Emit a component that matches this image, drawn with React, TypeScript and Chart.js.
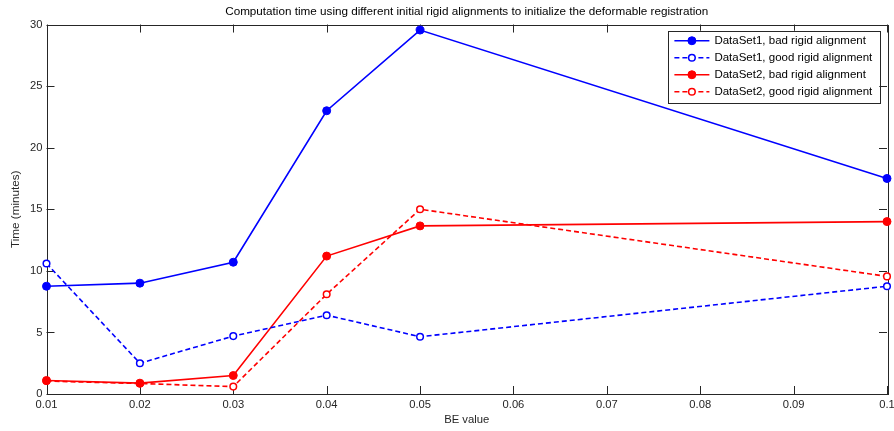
import { useEffect, useRef } from "react";
import { Chart, registerables } from "chart.js";

Chart.register(...registerables);

const beValues = [0.01, 0.02, 0.03, 0.04, 0.05, 0.1];
const ds1Bad = [8.75, 9.0, 10.7, 23.0, 29.55, 17.5];
const ds1Good = [10.6, 2.5, 4.7, 6.4, 4.65, 8.75];
const ds2Bad = [1.1, 0.88, 1.5, 11.2, 13.65, 14.0];
const ds2Good = [1.05, 0.85, 0.6, 8.1, 15.0, 9.55];
const seriesLabels = [
  "DataSet1, bad rigid alignment",
  "DataSet1, good rigid alignment",
  "DataSet2, bad rigid alignment",
  "DataSet2, good rigid alignment",
];
const xTickValues = [0.01, 0.02, 0.03, 0.04, 0.05, 0.06, 0.07, 0.08, 0.09, 0.1];
const xTickLabels = ["0.01", "0.02", "0.03", "0.04", "0.05", "0.06", "0.07", "0.08", "0.09", "0.1"];
const yTickValues = [0, 5, 10, 15, 20, 25, 30];
const yTickLabels = ["0", "5", "10", "15", "20", "25", "30"];
const titleText =
  "Computation time using different initial rigid alignments to initialize the deformable registration";
const xTitle = "BE value";
const yTitle = "Time (minutes)";

const FONT = '"Liberation Sans", Arial, sans-serif';
const AXIS_COLOR = "#262626";

const framePlugin = {
  id: "matlabFrame",
  beforeDatasetsDraw(chart: any) {
    const { ctx, chartArea, scales } = chart;
    const { left, right, top, bottom } = chartArea;
    const tick = 8;
    ctx.save();
    ctx.strokeStyle = AXIS_COLOR;
    ctx.lineWidth = 1;
    ctx.beginPath();
    for (const v of xTickValues) {
      const x = Math.round(scales.x.getPixelForValue(v)) + 0.5;
      ctx.moveTo(x, bottom);
      ctx.lineTo(x, bottom - tick);
      ctx.moveTo(x, top);
      ctx.lineTo(x, top + tick);
    }
    for (const v of yTickValues) {
      const y = Math.round(scales.y.getPixelForValue(v)) + 0.5;
      ctx.moveTo(left, y);
      ctx.lineTo(left + tick, y);
      ctx.moveTo(right, y);
      ctx.lineTo(right - tick, y);
    }
    ctx.stroke();
    ctx.strokeRect(Math.round(left) + 0.5, Math.round(top) + 0.5, Math.round(right - left), Math.round(bottom - top));
    ctx.restore();
  },
};

const legendPlugin = {
  id: "matlabLegend",
  afterDraw(chart: any) {
    const { ctx, chartArea } = chart;
    const items = chart.data.datasets;
    ctx.save();
    ctx.font = `11.5px ${FONT}`;
    const maxW = Math.max(...items.map((d: any) => ctx.measureText(d.label).width));
    const padL = 6.6;
    const lineLen = 35;
    const gap = 5;
    const padR = 7;
    const rowH = 17;
    const w = padL + lineLen + gap + maxW + padR;
    const h = 20.6 + rowH * (items.length - 1);
    const right = chartArea.right - 7.7;
    const top = chartArea.top + 6.2;
    const left = right - w;
    ctx.fillStyle = "#ffffff";
    ctx.fillRect(left, top, w, h);
    ctx.strokeStyle = AXIS_COLOR;
    ctx.lineWidth = 1;
    ctx.strokeRect(Math.round(left) + 0.5, Math.round(top) + 0.5, Math.round(w), Math.round(h));
    items.forEach((d: any, i: number) => {
      const cy = top + 10 + i * rowH;
      const x0 = left + padL;
      ctx.strokeStyle = d.borderColor;
      ctx.lineWidth = d.borderWidth;
      ctx.setLineDash(d.borderDash || []);
      ctx.beginPath();
      ctx.moveTo(x0, cy);
      ctx.lineTo(x0 + lineLen, cy);
      ctx.stroke();
      ctx.setLineDash([]);
      ctx.beginPath();
      ctx.arc(x0 + lineLen / 2, cy, d.pointRadius, 0, Math.PI * 2);
      ctx.fillStyle = d.pointBackgroundColor;
      ctx.fill();
      ctx.lineWidth = d.pointBorderWidth;
      ctx.strokeStyle = d.borderColor;
      ctx.stroke();
      ctx.fillStyle = "#000000";
      ctx.textBaseline = "middle";
      ctx.textAlign = "left";
      ctx.fillText(d.label, x0 + lineLen + gap, cy + 0.5);
    });
    ctx.restore();
  },
};

function makeSeries(label: string, values: number[], color: string, dashed: boolean) {
  return {
    label,
    data: beValues.map((x, i) => ({ x, y: values[i] })),
    borderColor: color,
    backgroundColor: color,
    borderWidth: 1.6,
    borderDash: dashed ? [5, 3] : [],
    pointRadius: dashed ? 3.3 : 4,
    pointBorderWidth: dashed ? 1.5 : 1,
    pointBackgroundColor: dashed ? "#ffffff" : color,
    pointBorderColor: color,
    tension: 0,
    clip: false as any,
  };
}

export default function App() {
  const ref = useRef<HTMLCanvasElement | null>(null);
  useEffect(() => {
    if (!ref.current) return;
    const chart = new Chart(ref.current, {
      type: "line",
      data: {
        datasets: [
          makeSeries(seriesLabels[0], ds1Bad, "#0000ff", false),
          makeSeries(seriesLabels[1], ds1Good, "#0000ff", true),
          makeSeries(seriesLabels[2], ds2Bad, "#ff0000", false),
          makeSeries(seriesLabels[3], ds2Good, "#ff0000", true),
        ] as any,
      },
      options: {
        animation: false,
        responsive: false,
        devicePixelRatio: 1,
        layout: { padding: { left: 0, right: 7, top: 0, bottom: 0 } },
        plugins: {
          legend: { display: false },
          tooltip: { enabled: false },
          title: {
            display: true,
            text: titleText,
            fullSize: false,
            color: "#000000",
            font: { family: FONT, size: 11.7, weight: "normal" },
            padding: { top: 4.6, bottom: 5.9 },
          },
        },
        scales: {
          x: {
            type: "linear",
            min: 0.01,
            max: 0.1,
            grid: { display: false, drawTicks: false },
            border: { display: false },
            afterBuildTicks: (scale: any) => {
              scale.ticks = xTickValues.map((v) => ({ value: v }));
            },
            afterFit: (scale: any) => {
              scale.height = 37;
              scale.paddingLeft = 0;
              scale.paddingRight = 0;
            },
            ticks: {
              autoSkip: false,
              maxRotation: 0,
              padding: 4,
              color: AXIS_COLOR,
              font: { family: FONT, size: 11.2 },
              callback: (_v: any, i: number) => xTickLabels[i],
            },
            title: {
              display: true,
              text: xTitle,
              color: AXIS_COLOR,
              font: { family: FONT, size: 11.3 },
              padding: { top: 0, bottom: 4.2 },
            },
          },
          y: {
            type: "linear",
            min: 0,
            max: 30,
            grid: { display: false, drawTicks: false },
            border: { display: false },
            afterBuildTicks: (scale: any) => {
              scale.ticks = yTickValues.map((v) => ({ value: v }));
            },
            afterFit: (scale: any) => {
              scale.width = 46.5;
              scale.paddingTop = 0;
              scale.paddingBottom = 0;
            },
            ticks: {
              autoSkip: false,
              padding: 4,
              color: AXIS_COLOR,
              font: { family: FONT, size: 11.2 },
              callback: (_v: any, i: number) => yTickLabels[i],
            },
            title: {
              display: true,
              text: yTitle,
              color: AXIS_COLOR,
              font: { family: FONT, size: 11.7 },
              padding: { top: 8.7, bottom: 0 },
            },
          },
        },
      },
      plugins: [framePlugin, legendPlugin],
    });
    return () => chart.destroy();
  }, []);
  return (
    <div style={{ position: "fixed", left: 0, top: 0, width: 894, height: 431, background: "#ffffff" }}>
      <canvas ref={ref} width={894} height={431} style={{ display: "block" }} />
    </div>
  );
}
